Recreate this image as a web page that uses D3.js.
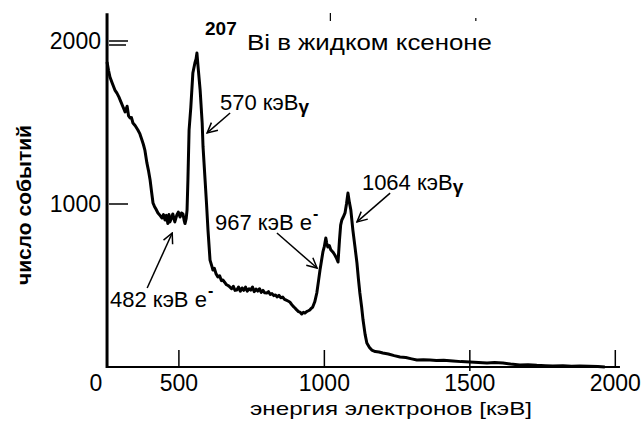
<!DOCTYPE html>
<html><head><meta charset="utf-8">
<script src="https://cdn.jsdelivr.net/npm/d3@7"></script>
<style>body{margin:0;background:#fff}svg{display:block}text{font-family:"Liberation Sans",Arial,sans-serif;fill:#000}</style>
</head><body>
<script>
// ---- data ----
const energy = [
 253,258,263,270,280,287,294,300,308,315,
 322,327,332,337,342,350,359,366,373,378,
 383,390,396,401,406,411,416,421,428,435,
 442,447,452,457,462,466,469,474,479,486,
 493,498,504,509,514,518,521,525,528,531,
 535,541,548,555,559,562,566,573,580,583,
 590,595,600,607,614,617,622,628,634,640,
 646,651,657,663,669,675,681,687,693,699,
 705,711,717,723,729,735,741,747,753,759,
 765,771,777,783,789,795,802,808,814,820,
 826,832,838,844,850,857,863,869,875,881,
 887,893,899,905,911,916,922,928,933,939,
 945,950,955,960,967,974,980,985,990,995,
 1000,1005,1008,1012,1017,1022,1029,1035,1041,1047,
 1052,1056,1060,1065,1071,1076,1081,1086,1091,1098,
 1105,1112,1117,1122,1128,1133,1140,1146,1155,1163,
 1175,1188,1201,1220,1240,1260,1280,1300,1318,1340,
 1363,1385,1410,1442,1470,1500,1530,1559,1585,1614,
 1640,1672,1700,1730,1760,1785,1820,1850,1878,1910,
 1940,1964];
const counts = [
 1871,1820,1779,1745,1699,1680,1656,1630,1595,1565,
 1600,1540,1528,1530,1497,1480,1454,1430,1393,1365,
 1331,1252,1200,1147,1075,1006,985,969,945,930,
 914,935,902,930,880,935,890,910,939,890,
 933,950,920,945,939,900,880,910,963,1147,
 1454,1595,1804,1865,1890,1926,1840,1699,1497,1350,
 1147,1000,840,656,614,595,605,570,552,560,
 530,534,520,505,500,491,480,495,470,472,
 490,465,485,470,490,465,480,472,490,462,
 478,466,480,458,470,455,454,462,445,450,
 438,442,430,440,425,429,415,410,405,399,
 385,372,362,350,340,337,325,335,331,340,
 345,350,360,368,400,454,530,595,650,706,
 740,791,760,736,745,720,706,690,670,644,
 780,870,902,920,945,1000,1067,1010,963,840,
 740,638,540,454,370,288,200,147,120,104,
 95,92,86,80,70,61,58,50,43,45,
 43,40,42,37,33,31,28,25,27,25,
 18,12,14,10,8,6,7,5,6,4,
 3,0];
const xTicks = [500, 1000, 1500, 2000];
const xTickLabels = ["500", "1000", "1500", "2000"];
const yTicks = [1000, 2000];
const yTickLabels = ["1000", "2000"];
const xDomainFull = [253, 2016];
const yTop = 2170;
const titleIso = "207";
const titleText = "Bi в жидком ксеноне";
const xTitle = "энергия электронов [кэВ]";
const yTitle = "число событий";
// annotations: text, anchor (energy, counts), arrow from -> to (energy, counts)
const annLabels = ["570 кэВ", "482 кэВ e", "967 кэВ e", "1064 кэВ"];
const annSuffix = ["γ", "-", "-", "γ"];
const annTextAt = [[641,1577],[263,368],[624,840],[1129,1086]];
const annArrowFrom = [[676,1558],[391,485],[837,822],[1226,1067]];
const annArrowTo = [[597,1436],[477,822],[975,607],[1112,890]];

// ---- drawing ----
const W = 642, H = 425;
const svg = d3.select("body").append("svg").attr("width", W).attr("height", H);
const x = d3.scaleLinear().domain([500, 2000]).range([178.9, 615.3]);
const y = d3.scaleLinear().domain([0, 2000]).range([367, 41]);
const x0 = x(xDomainFull[0]), x1 = x(xDomainFull[1]);

svg.append("defs").append("marker").attr("id","ah").attr("viewBox","0 0 12 12")
  .attr("refX",11).attr("refY",6).attr("markerWidth",12).attr("markerHeight",12)
  .attr("markerUnits","userSpaceOnUse").attr("orient","auto")
  .append("path").attr("d","M1,1 L11,6 L1,11").attr("fill","none").attr("stroke","#000").attr("stroke-width",1.5);

// axes lines
svg.append("line").attr("x1",x0).attr("x2",x0).attr("y1",y(yTop)).attr("y2",y(0)+1)
  .attr("stroke","#000").attr("stroke-width",3);
svg.append("line").attr("x1",x0).attr("x2",x1).attr("y1",y(0)).attr("y2",y(0))
  .attr("stroke","#000").attr("stroke-width",2);

// x ticks (inward, up)
svg.selectAll(".xt").data(xTicks).join("line").attr("class","xt")
  .attr("x1",d=>x(d)).attr("x2",d=>x(d)).attr("y1",y(0)-17).attr("y2",d=>d===1500?y(0)+4:y(0))
  .attr("stroke","#000").attr("stroke-width",1.5);
svg.selectAll(".xtl").data(xTicks).join("text").attr("class","xtl")
  .attr("x",d=>x(d)).attr("y",391).attr("text-anchor","middle").attr("font-size",23)
  .text((d,i)=>xTickLabels[i]);
svg.append("text").attr("x",96).attr("y",391).attr("text-anchor","middle").attr("font-size",23).text("0");
// small top marks
svg.selectAll(".tt").data([1000,1500]).join("line").attr("class","tt")
  .attr("x1",d=>x(d)+6).attr("x2",d=>x(d)+6).attr("y1",d=>d===1000?13:18).attr("y2",21)
  .attr("stroke","#000").attr("stroke-width",1.2);

// y ticks (inward, right)
svg.selectAll(".yt").data(yTicks).join("line").attr("class","yt")
  .attr("x1",x0+2).attr("x2",x0+21).attr("y1",d=>y(d)).attr("y2",d=>y(d))
  .attr("stroke","#000").attr("stroke-width",1.5);
svg.append("line").attr("x1",x0+2).attr("x2",x0+19).attr("y1",y(2000)+4).attr("y2",y(2000)+4)
  .attr("stroke","#000").attr("stroke-width",1.5);
svg.selectAll(".ytl").data(yTicks).join("text").attr("class","ytl")
  .attr("x",101).attr("y",d=>y(d)+8).attr("text-anchor","end").attr("font-size",23)
  .text((d,i)=>yTickLabels[i]);

// spectrum
const pts = energy.map((e,i)=>[e, counts[i]]);
svg.append("path").datum(pts)
  .attr("d", d3.line().x(d=>x(d[0])).y(d=>y(d[1])))
  .attr("fill","none").attr("stroke","#000").attr("stroke-width",3).attr("stroke-linejoin","round");

// titles
svg.append("text").attr("x",205).attr("y",35).attr("font-size",19).attr("font-weight","bold").text(titleIso);
svg.append("text").attr("x",247).attr("y",50).attr("font-size",22)
  .attr("textLength",245).attr("lengthAdjust","spacingAndGlyphs").text(titleText);
svg.append("text").attr("x",250).attr("y",415).attr("font-size",19)
  .attr("textLength",282).attr("lengthAdjust","spacingAndGlyphs").text(xTitle);
svg.append("text").attr("transform","translate(31,205) rotate(-90)").attr("text-anchor","middle")
  .attr("font-size",21).attr("font-weight","bold").text(yTitle);

// annotations
annLabels.forEach((t,i)=>{
  const tx = svg.append("text").attr("x",x(annTextAt[i][0])).attr("y",y(annTextAt[i][1])).attr("font-size",22);
  tx.append("tspan").text(t);
  if (annSuffix[i]==="γ") tx.append("tspan").attr("font-size",19).attr("font-weight","bold").attr("dy",3).text("γ");
  else tx.append("tspan").attr("font-size",16).attr("font-weight","bold").attr("dy",-11).attr("dx",1).text("-");
  svg.append("line").attr("x1",x(annArrowFrom[i][0])).attr("y1",y(annArrowFrom[i][1]))
    .attr("x2",x(annArrowTo[i][0])).attr("y2",y(annArrowTo[i][1]))
    .attr("stroke","#000").attr("stroke-width",1.5).attr("marker-end","url(#ah)");
});
</script>
</body></html>
